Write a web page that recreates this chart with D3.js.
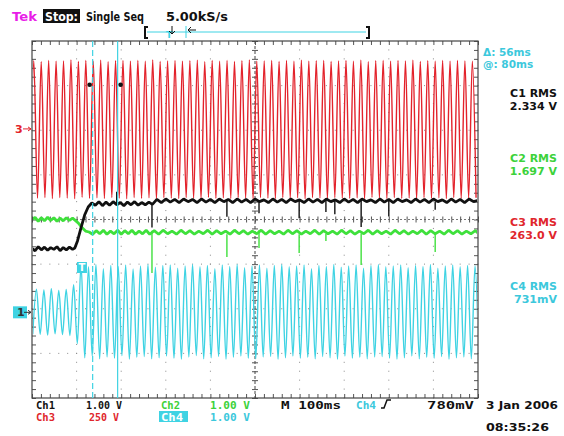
<!DOCTYPE html>
<html><head><meta charset="utf-8">
<script src="https://cdn.jsdelivr.net/npm/d3@7"></script>
<style>body{margin:0;background:#fff}svg{display:block}</style>
</head><body>
<script>
// ---------------- DATA ----------------
const timeRangeMs = [0, 1000];            // 10 divisions x 100 ms
const cycleCount = 60;                     // mains cycles across the screen
const ch3PhaseMs = 4, ch4PhaseMs = 10;

// Ch3 (250 V/div) per-cycle positive peaks and negative troughs, volts
const ch3PeakV = [382,376,384,379,381,386,378,383,380,385,377,382,384,379,383,380,386,378,381,384,
                  379,382,385,377,383,380,384,378,382,386,379,381,384,378,383,380,385,379,382,384,
                  378,381,383,380,385,377,382,384,379,383,381,385,378,382,380,384,379,383,381,380];
const ch3TroughV = [-388,-384,-390,-385,-387,-391,-383,-389,-386,-390,-384,-388,-391,-385,-389,-386,-392,-384,-387,-390,
                    -385,-388,-391,-383,-389,-386,-390,-384,-388,-392,-385,-387,-390,-384,-389,-386,-391,-385,-388,-390,
                    -384,-387,-389,-386,-391,-383,-388,-390,-385,-389,-387,-391,-384,-388,-386,-390,-385,-389,-387,-386];
// Ch4 (1 V/div) per-cycle peaks / troughs, volts
const ch4PeakV = [0.52,0.50,0.53,0.49,0.51,0.62,
                  1.06,1.02,1.07,0.98,1.05,1.03,1.06,0.97,1.04,1.07,1.01,1.05,1.06,0.99,
                  1.04,1.07,1.02,1.05,0.98,1.06,1.03,1.07,1.00,1.04,1.06,0.99,1.05,1.07,
                  1.02,1.04,1.06,0.98,1.05,1.03,1.07,1.01,1.04,1.06,0.99,1.05,1.07,1.02,
                  1.04,1.06,1.00,1.05,1.03,1.07,0.99,1.04,1.06,1.02,1.05,1.04];
const ch4TroughV = [-0.49,-0.51,-0.48,-0.50,-0.52,-0.70,
                    -1.02,-0.98,-1.04,-1.00,-1.03,-0.97,-1.05,-1.01,-0.99,-1.04,-1.02,-0.98,-1.03,-1.05,
                    -1.00,-0.97,-1.04,-1.02,-0.99,-1.05,-1.01,-0.98,-1.03,-1.04,-1.00,-0.99,-1.05,-1.02,
                    -0.98,-1.03,-1.01,-1.04,-0.99,-1.02,-1.05,-0.98,-1.03,-1.01,-1.04,-1.00,-0.99,-1.03,
                    -1.05,-1.02,-0.98,-1.04,-1.01,-1.03,-0.99,-1.05,-1.02,-1.00,-1.04,-1.01];
// Ch1 (1 V/div) noisy level [ms, V]
const ch1Trace = [[0,1.43],[7,1.38],[14,1.47],[21,1.40],[28,1.46],[35,1.39],[42,1.45],[49,1.41],[56,1.47],[63,1.38],[70,1.45],[77,1.40],[84,1.46],[91,1.41],[96,1.44],
 [102,1.60],[110,1.90],[118,2.18],[126,2.36],[134,2.45],
 [142,2.40],[150,2.48],[158,2.39],[166,2.47],[174,2.40],[182,2.48],[190,2.41],[198,2.46],[206,2.39],[214,2.47],[222,2.41],[230,2.48],[238,2.40],[246,2.46],[254,2.41],[262,2.47],[270,2.42],
 [280,2.53],[290,2.46],[300,2.54],[310,2.47],[320,2.53],[330,2.46],[340,2.54],[350,2.48],[360,2.53],[370,2.46],[380,2.54],[390,2.47],[400,2.53],[410,2.46],[420,2.54],[430,2.48],[440,2.53],
 [450,2.46],[460,2.54],[470,2.47],[480,2.53],[490,2.46],[500,2.54],[510,2.48],[520,2.52],[530,2.46],[540,2.54],[550,2.47],[560,2.53],[570,2.46],[580,2.54],[590,2.48],[600,2.52],
 [610,2.46],[620,2.54],[630,2.47],[640,2.53],[650,2.46],[660,2.54],[670,2.48],[680,2.52],[690,2.46],[700,2.54],[710,2.47],[720,2.53],[730,2.46],[740,2.54],[750,2.48],[760,2.52],
 [770,2.46],[780,2.54],[790,2.47],[800,2.53],[810,2.46],[820,2.54],[830,2.48],[840,2.52],[850,2.46],[860,2.54],[870,2.47],[880,2.53],[890,2.46],[900,2.54],[910,2.48],[920,2.52],
 [930,2.46],[940,2.54],[950,2.47],[960,2.53],[970,2.46],[980,2.54],[990,2.48],[1000,2.51]];
// Ch1 glitches [ms, V at tip]
const ch1Spikes = [[190,2.70],[269,1.90],[437,2.14],[509,2.22],[599,2.11],[659,2.25],[679,2.20],[738,1.91],[800,2.15],[904,2.30]];
// Ch2 (1 V/div) noisy level [ms, V]
const ch2Trace = [[0,2.08],[7,2.13],[14,2.04],[21,2.12],[28,2.05],[35,2.13],[42,2.06],[49,2.12],[56,2.04],[63,2.11],[70,2.05],[77,2.12],[84,2.06],[91,2.11],[97,2.06],
 [104,2.00],[112,1.90],[120,1.82],[128,1.80],
 [136,1.75],[144,1.83],[152,1.76],[160,1.84],[168,1.75],[176,1.82],[184,1.76],[192,1.84],[200,1.75],[208,1.83],[216,1.76],[224,1.84],[232,1.75],[240,1.82],[248,1.76],[256,1.84],[264,1.75],
 [274,1.83],[284,1.75],[294,1.84],[304,1.76],[314,1.82],[324,1.75],[334,1.84],[344,1.76],[354,1.83],[364,1.75],[374,1.82],[384,1.76],[394,1.84],[404,1.75],[414,1.83],[424,1.76],[434,1.82],
 [444,1.75],[454,1.84],[464,1.76],[474,1.83],[484,1.75],[494,1.82],[504,1.76],[514,1.84],[524,1.75],[534,1.83],[544,1.76],[554,1.82],[564,1.75],[574,1.84],[584,1.76],[594,1.83],
 [604,1.75],[614,1.82],[624,1.76],[634,1.84],[644,1.75],[654,1.83],[664,1.76],[674,1.82],[684,1.75],[694,1.84],[704,1.76],[714,1.83],[724,1.75],[734,1.82],[744,1.76],[754,1.84],
 [764,1.75],[774,1.83],[784,1.76],[794,1.82],[804,1.75],[814,1.84],[824,1.76],[834,1.83],[844,1.75],[854,1.82],[864,1.76],[874,1.84],[884,1.75],[894,1.83],[904,1.76],[914,1.82],
 [924,1.75],[934,1.84],[944,1.76],[954,1.83],[964,1.75],[974,1.82],[984,1.76],[994,1.83],[1000,1.78]];
const ch2Spikes = [[269,0.88],[437,1.24],[509,1.44],[599,1.33],[659,1.60],[738,1.06],[904,1.35]];

const cursorTimesMs = [136, 192];
const cursorLevelV = 247;          // on Ch3
const triggerTimeMs = 112;

const headerTexts = ["Tek", "Stop:", "Single Seq", "5.00kS/s"];
const cursorReadouts = ["\u0394: 56ms", "@: 80ms"];
const rmsLabels = ["C1 RMS", "C2 RMS", "C3 RMS", "C4 RMS"];
const rmsValues = ["2.334 V", "1.697 V", "263.0 V", "731mV"];
const bottomRow1 = ["Ch1", "1.00 V", "Ch2", "1.00 V", "M 100ms", "Ch4", "780mV"];
const bottomRow2 = ["Ch3", "250 V", "Ch4", "1.00 V"];
const dateText = "3 Jan 2006", timeText = "08:35:26";

// ---------------- LAYOUT / STYLE ----------------
const W = 564, H = 436;
const L = 32, R = 478, T = 41, B = 398;
const COL = {red:"#e3222b", black:"#111", green:"#3fe03c", cyan:"#3fd3e3", mag:"#e81ee8",
             ctxt:"#3cc8dc", gtxt:"#3cd23a", rtxt:"#e0262c"};
const channels = {
  ch1:{vdiv:1, off:-2.08, color:COL.black},
  ch2:{vdiv:1, off:-2.08, color:COL.green},
  ch3:{vdiv:250, off:2.03, color:COL.red},
  ch4:{vdiv:1, off:-2.08, color:COL.cyan}
};

const svg = d3.select("body").append("svg").attr("width", W).attr("height", H)
  .style("font-family", "'DejaVu Sans', sans-serif");
svg.append("rect").attr("width", W).attr("height", H).attr("fill", "#fff");

const X = d3.scaleLinear().domain(timeRangeMs).range([L, R]);
const Xdiv = d3.scaleLinear().domain([0, 10]).range([L, R]);
const Ydiv = d3.scaleLinear().domain([-4, 4]).range([B, T]);
const yOf = (ch, v) => Ydiv(v / ch.vdiv + ch.off);

// ---------------- GRATICULE ----------------
const grid = svg.append("g");
const minorX = d3.range(0, 10.001, 0.2), minorY = d3.range(-4, 4.001, 0.2);
for (let i = 1; i < 10; i++) if (i !== 5)
  minorY.forEach(v => grid.append("rect").attr("x", Xdiv(i) - 0.5).attr("y", Ydiv(v) - 0.5)
    .attr("width", 1).attr("height", 1).attr("fill", "#8a8a8a"));
for (let j = -3; j < 4; j++) if (j !== 0)
  minorX.forEach(v => grid.append("rect").attr("x", Xdiv(v) - 0.5).attr("y", Ydiv(j) - 0.5)
    .attr("width", 1).attr("height", 1).attr("fill", "#8a8a8a"));
grid.append("line").attr("x1", Xdiv(5)).attr("x2", Xdiv(5)).attr("y1", T).attr("y2", B)
  .attr("stroke", "#444").attr("stroke-dasharray", "3,2");
grid.append("line").attr("y1", Ydiv(0)).attr("y2", Ydiv(0)).attr("x1", L).attr("x2", R)
  .attr("stroke", "#777").attr("stroke-dasharray", "2,2");
const tickStyle = g => { g.select(".domain").remove(); g.selectAll("line").attr("stroke", "#555"); g.selectAll("text").remove(); };
const Ytick = d3.scaleLinear().domain([-4,4]).range([B,T]);
[["axisTop",Ydiv(0)],["axisBottom",Ydiv(0)]].forEach(([a,y]) =>
  grid.append("g").attr("transform", `translate(0,${y})`).call(d3[a](Xdiv).tickValues(minorX).tickSize(3)).call(tickStyle));
[["axisLeft",Xdiv(5)],["axisRight",Xdiv(5)]].forEach(([a,x]) =>
  grid.append("g").attr("transform", `translate(${x},0)`).call(d3[a](Ytick).tickValues(minorY).tickSize(3)).call(tickStyle));
grid.append("g").attr("transform", `translate(0,${T})`).call(d3.axisBottom(Xdiv).tickValues(minorX).tickSize(4)).call(tickStyle);
grid.append("g").attr("transform", `translate(0,${B})`).call(d3.axisTop(Xdiv).tickValues(minorX).tickSize(4)).call(tickStyle);
grid.append("g").attr("transform", `translate(${L},0)`).call(d3.axisRight(Ytick).tickValues(minorY).tickSize(4)).call(tickStyle);
grid.append("g").attr("transform", `translate(${R},0)`).call(d3.axisLeft(Ytick).tickValues(minorY).tickSize(4)).call(tickStyle);
grid.append("rect").attr("x", L).attr("y", T).attr("width", R - L).attr("height", B - T)
  .attr("fill", "none").attr("stroke", "#444").attr("stroke-width", 1.2);

// ---------------- WAVEFORMS ----------------
svg.append("clipPath").attr("id", "clip").append("rect")
  .attr("x", L + 1).attr("y", T).attr("width", R - L - 2).attr("height", B - T);
const waves = svg.append("g").attr("clip-path", "url(#clip)");
const period = (timeRangeMs[1] - timeRangeMs[0]) / cycleCount;
function cyclePoints(peaks, troughs, phase) {
  const pts = [[phase - period / 2, troughs[0]]];
  peaks.forEach((p, i) => { pts.push([phase + i * period, p]); pts.push([phase + (i + 0.5) * period, troughs[i]]); });
  return pts;
}
const lineFor = ch => d3.line().x(d => X(d[0])).y(d => yOf(ch, d[1]));

waves.append("path").datum(cyclePoints(ch3PeakV, ch3TroughV, ch3PhaseMs))
  .attr("d", lineFor(channels.ch3).curve(d3.curveMonotoneX))
  .attr("fill", "none").attr("stroke", COL.red).attr("stroke-width", 1.4);
waves.append("path").datum(cyclePoints(ch4PeakV, ch4TroughV, ch4PhaseMs))
  .attr("d", lineFor(channels.ch4).curve(d3.curveMonotoneX))
  .attr("fill", "none").attr("stroke", COL.cyan).attr("stroke-width", 1.4);

function levelAt(trace, t) {
  const i = d3.bisector(d => d[0]).left(trace, t);
  return trace[Math.min(i, trace.length - 1)][1];
}
function drawNoisy(trace, spikes, ch, color) {
  waves.append("path").datum(trace).attr("d", lineFor(ch))
    .attr("fill", "none").attr("stroke", color).attr("stroke-width", 2.8).attr("stroke-linejoin", "bevel");
  waves.selectAll(null).data(spikes).enter().append("line")
    .attr("x1", d => X(d[0])).attr("x2", d => X(d[0]))
    .attr("y1", d => yOf(ch, levelAt(trace, d[0]))).attr("y2", d => yOf(ch, d[1]))
    .attr("stroke", color).attr("stroke-width", 1.4);
}
drawNoisy(ch2Trace, ch2Spikes, channels.ch2, COL.green);
drawNoisy(ch1Trace, ch1Spikes, channels.ch1, COL.black);

// cursors
cursorTimesMs.forEach((t, i) => {
  waves.append("line").attr("x1", X(t)).attr("x2", X(t)).attr("y1", T).attr("y2", B)
    .attr("stroke", COL.cyan).attr("stroke-width", 1.2).attr("stroke-dasharray", i === 0 ? "6,3" : null);
  waves.append("circle").attr("cx", X(t) + (i === 0 ? -3 : 3)).attr("cy", yOf(channels.ch3, cursorLevelV)).attr("r", 2.3).attr("fill", "#111");
});

// trigger marker
const tx = X(triggerTimeMs);
svg.append("rect").attr("x", tx - 5).attr("y", 262).attr("width", 10).attr("height", 11).attr("fill", COL.cyan);
svg.append("text").attr("x", tx).attr("y", 271).attr("text-anchor", "middle").attr("fill", "#fff")
  .attr("font-size", 10).attr("font-weight", "bold").text("T");

// channel ground markers
const y3 = yOf(channels.ch3, 0), y1 = yOf(channels.ch1, 0);
svg.append("text").attr("x", 15).attr("y", y3 + 4).attr("fill", COL.red).attr("font-size", 11).attr("font-weight", "bold").text("3");
svg.append("path").attr("d", `M23,${y3}H31M28,${y3-2}L31,${y3}L28,${y3+2}`).attr("stroke", COL.red).attr("fill", "none");
svg.append("rect").attr("x", 13).attr("y", y1 - 6).attr("width", 14).attr("height", 12).attr("fill", COL.cyan);
svg.append("text").attr("x", 17).attr("y", y1 + 4).attr("fill", "#333").attr("font-size", 11).attr("font-weight", "bold").text("1");
svg.append("path").attr("d", `M24,${y1}H31M28,${y1-2}L31,${y1}L28,${y1+2}`).attr("stroke", "#333").attr("fill", "none");

// ---------------- TEXT ----------------
function txt(s, x, y, o = {}) {
  const t = svg.append("text").attr("x", x).attr("y", y).text(s)
    .attr("fill", o.fill || "#111").attr("font-size", o.size || 12).attr("font-weight", o.weight || "bold")
    .attr("text-anchor", o.anchor || "start");
  if (o.family) t.attr("font-family", o.family);
  if (o.len) t.attr("textLength", o.len).attr("lengthAdjust", "spacingAndGlyphs");
  return t;
}
// header
txt(headerTexts[0], 12, 21, {fill: COL.mag, len: 25, size: 13});
svg.append("rect").attr("x", 43).attr("y", 9).attr("width", 37).attr("height", 14).attr("fill", "#111");
txt(headerTexts[1], 45, 21, {fill: "#fff", len: 33, size: 13});
txt(headerTexts[2], 86, 21, {len: 58, size: 13, weight: 600});
txt(headerTexts[3], 166, 21, {len: 62, size: 13, weight: 600});
// record view bar
svg.append("line").attr("x1", 147).attr("x2", 366).attr("y1", 32).attr("y2", 32).attr("stroke", COL.cyan);
svg.append("path").attr("d", "M148,27H145V38H148M366,27H369V38H366").attr("stroke", "#111").attr("stroke-width", 2).attr("fill", "none");
txt("T", 166, 38, {fill: COL.cyan, size: 9});
svg.append("path").attr("d", "M172,26V34M169,31L172,34L175,31").attr("stroke", "#111").attr("fill", "none");
svg.append("line").attr("x1", 186).attr("x2", 186).attr("y1", 26).attr("y2", 38).attr("stroke", COL.cyan);
svg.append("path").attr("d", "M188,30H196M191,27L188,30L191,33").attr("stroke", "#111").attr("fill", "none");

// right-side readouts
txt(cursorReadouts[0], 483, 56, {fill: COL.ctxt, size: 10.5});
txt(cursorReadouts[1], 483, 68, {fill: COL.ctxt, size: 10.5});
const rmsY = [97, 162, 226, 290], rmsCol = ["#111", COL.gtxt, COL.rtxt, COL.ctxt];
rmsLabels.forEach((s, i) => {
  txt(s, 557, rmsY[i], {fill: rmsCol[i], anchor: "end", size: 11});
  txt(rmsValues[i], 557, rmsY[i] + 13, {fill: rmsCol[i], anchor: "end", size: 11});
});

// bottom status
const mono = "'DejaVu Sans Mono', monospace";
const r1x = [36, 86, 161, 210, 281, 356, 427], r1c = ["#111", "#111", COL.gtxt, COL.gtxt, "#111", COL.ctxt, "#111"];
const r1w = [19, 36, 19, 40, 60, 20, 47];
bottomRow1.forEach((s, i) => txt(s, r1x[i], 409, {fill: r1c[i], family: mono, size: 10, len: r1w[i]}));
svg.append("path").attr("d", "M381,408H384L387,400H391").attr("stroke", "#111").attr("stroke-width", 1.5).attr("fill", "none");
svg.append("rect").attr("x", 159).attr("y", 411).attr("width", 29).attr("height", 11).attr("fill", COL.cyan);
const r2x = [36, 89, 161, 210], r2c = [COL.rtxt, COL.rtxt, "#fff", COL.ctxt], r2w = [19, 30, 22, 40];
bottomRow2.forEach((s, i) => txt(s, r2x[i], 421, {fill: r2c[i], family: mono, size: 10, len: r2w[i]}));
txt(dateText, 486, 409, {size: 11, len: 72});
txt(timeText, 486, 431, {size: 11, len: 63});
</script>
</body></html>
